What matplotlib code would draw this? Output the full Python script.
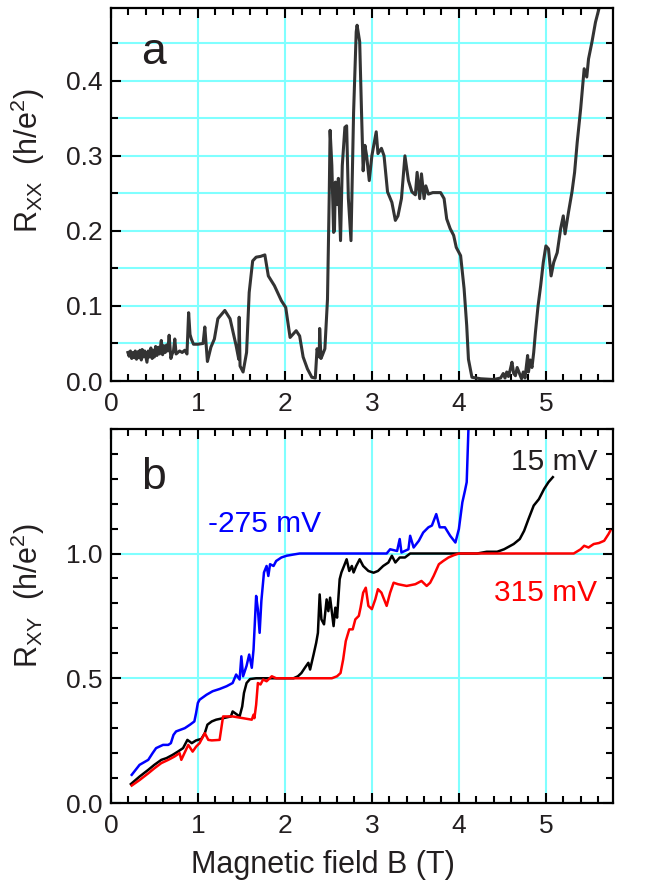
import matplotlib
matplotlib.use('Agg')
import matplotlib.pyplot as plt
from matplotlib.ticker import MultipleLocator, FixedLocator

plt.rcParams['font.family'] = ['Liberation Sans', 'DejaVu Sans']
plt.rcParams['mathtext.default'] = 'regular'

# panel a: Rxx vs B
b_xx = [0.196, 0.21, 0.225, 0.24, 0.255, 0.27, 0.28, 0.295, 0.31, 0.32, 0.335, 0.35, 0.36, 0.375, 0.39,
        0.40, 0.415, 0.43, 0.445, 0.46, 0.475, 0.49, 0.50, 0.515, 0.53, 0.545, 0.56, 0.58, 0.595, 0.61,
        0.625, 0.64, 0.655, 0.67, 0.69, 0.705, 0.72, 0.735, 0.75, 0.77, 0.79, 0.82, 0.85, 0.875, 0.894,
        0.91, 0.925, 0.95, 1.00, 1.06, 1.08, 1.11, 1.15, 1.19, 1.23,
        1.31, 1.37, 1.44, 1.47, 1.475, 1.485, 1.52, 1.56, 1.59, 1.63, 1.67, 1.72, 1.77, 1.81, 1.88,
        1.96, 2.01, 2.06, 2.13, 2.17, 2.21, 2.26, 2.31, 2.35, 2.37, 2.395, 2.40, 2.415, 2.43, 2.46,
        2.49, 2.51, 2.52, 2.54, 2.56, 2.57, 2.58, 2.60, 2.615, 2.64, 2.66, 2.69, 2.71, 2.73, 2.76,
        2.79, 2.82, 2.83, 2.86, 2.88, 2.90, 2.92, 2.94, 2.97, 3.00, 3.05, 3.07, 3.11, 3.14, 3.18,
        3.23, 3.27, 3.30, 3.34, 3.38, 3.42, 3.46, 3.50, 3.52, 3.55, 3.57, 3.60, 3.62, 3.65, 3.70,
        3.79, 3.83, 3.86, 3.90, 3.94, 3.97, 4.02, 4.06, 4.09, 4.11, 4.15, 4.25, 4.40, 4.48, 4.51,
        4.53, 4.55, 4.57, 4.59, 4.61, 4.63, 4.65, 4.67, 4.69, 4.72, 4.74, 4.76, 4.79, 4.80, 4.82,
        4.84, 4.86, 4.88, 4.91, 4.94, 4.97, 5.00, 5.03,
        5.06, 5.09, 5.13, 5.17, 5.20, 5.22, 5.26, 5.30, 5.33, 5.36, 5.40, 5.44, 5.47, 5.49, 5.53,
        5.57, 5.61]
r_xx = [0.038, 0.033, 0.040, 0.030, 0.038, 0.031, 0.040, 0.029, 0.039, 0.031, 0.041, 0.028, 0.042, 0.032, 0.040,
        0.034, 0.025, 0.040, 0.032, 0.044, 0.030, 0.041, 0.032, 0.046, 0.034, 0.045, 0.036, 0.054, 0.035, 0.047,
        0.038, 0.048, 0.040, 0.061, 0.030, 0.036, 0.040, 0.056, 0.036, 0.038, 0.040, 0.038, 0.041, 0.036, 0.091,
        0.062, 0.056, 0.049, 0.049, 0.050, 0.072, 0.026, 0.045, 0.056, 0.083,
        0.094, 0.083, 0.047, 0.029, 0.085, 0.020, 0.012, 0.038, 0.118, 0.160, 0.165, 0.166, 0.168, 0.140, 0.127,
        0.107, 0.098, 0.058, 0.067, 0.060, 0.032, 0.016, 0.005, 0.004, 0.043, 0.032, 0.070, 0.030, 0.034, 0.043,
        0.109, 0.247, 0.334, 0.287, 0.198, 0.200, 0.265, 0.235, 0.270, 0.187, 0.287, 0.338, 0.340, 0.243, 0.187,
        0.358, 0.465, 0.474, 0.452, 0.363, 0.280, 0.314, 0.300, 0.267, 0.300, 0.332, 0.303, 0.310, 0.300, 0.252,
        0.238, 0.214, 0.220, 0.243, 0.300, 0.267, 0.252, 0.248, 0.278, 0.243, 0.276, 0.243, 0.260, 0.249, 0.251,
        0.251, 0.243, 0.216, 0.203, 0.194, 0.178, 0.167, 0.123, 0.074, 0.029, 0.005, 0.003, 0.002, 0.004, 0.010,
        0.004, 0.012, 0.006, 0.015, 0.025, 0.010, 0.007, 0.018, 0.012, 0.003, 0.012, 0.004, 0.034, 0.012, 0.028,
        0.018, 0.038, 0.065, 0.100, 0.127, 0.158, 0.180, 0.176,
        0.140, 0.158, 0.171, 0.203, 0.220, 0.196, 0.225, 0.252, 0.278, 0.318, 0.363, 0.416, 0.405, 0.429, 0.452,
        0.478, 0.496]

# panel b: Rxy vs B for three gate voltages
b_neg = [0.24, 0.33, 0.43, 0.48, 0.52, 0.60, 0.66, 0.69, 0.72, 0.75, 0.85, 0.91, 0.96, 0.98, 1.00,
         1.02, 1.10, 1.17, 1.25, 1.33, 1.40, 1.44, 1.48, 1.50, 1.52, 1.56, 1.59, 1.62, 1.64, 1.67,
         1.69, 1.71, 1.73, 1.76, 1.79, 1.81, 1.83, 1.87, 1.90, 1.96, 2.02, 2.10, 2.17, 2.60, 3.17,
         3.21, 3.29, 3.32, 3.34, 3.42, 3.44, 3.48, 3.54, 3.59, 3.65, 3.69, 3.74, 3.78, 3.84, 3.90,
         3.96, 4.00, 4.04, 4.07, 4.09, 4.11]
r_neg = [0.113, 0.153, 0.173, 0.200, 0.220, 0.233, 0.233, 0.240, 0.273, 0.287, 0.300, 0.314, 0.327, 0.361, 0.401,
         0.414, 0.434, 0.448, 0.457, 0.468, 0.481, 0.515, 0.495, 0.588, 0.508, 0.550, 0.595, 0.542, 0.615, 0.830,
         0.776, 0.682, 0.810, 0.924, 0.950, 0.910, 0.957, 0.950, 0.970, 0.984, 0.991, 0.996, 1.000, 1.000, 1.000,
         1.017, 1.010, 1.058, 1.004, 1.017, 1.071, 1.024, 1.051, 1.084, 1.105, 1.112, 1.158, 1.105, 1.105, 1.071,
         1.044, 1.098, 1.205, 1.252, 1.286, 1.50]

b_mid = [0.23, 0.33, 0.43, 0.50, 0.58, 0.64, 0.71, 0.77, 0.83, 0.88, 0.93, 0.98, 1.04, 1.08, 1.11,
         1.16, 1.21, 1.29, 1.38, 1.40, 1.48, 1.51, 1.53, 1.56, 1.60, 1.67, 2.10, 2.15, 2.19, 2.23,
         2.27, 2.29, 2.33, 2.36, 2.38, 2.40, 2.42, 2.45, 2.48, 2.50, 2.52, 2.56, 2.58, 2.60, 2.63,
         2.65, 2.68, 2.71, 2.74, 2.77, 2.79, 2.82, 2.86, 2.90, 2.96, 3.02, 3.07, 3.13, 3.19, 3.23,
         3.27, 3.32, 3.38, 3.44, 4.21, 4.32, 4.44, 4.52, 4.63, 4.70, 4.75, 4.80, 4.86, 4.92, 4.98,
         5.03, 5.08]
r_mid = [0.076, 0.106, 0.133, 0.153, 0.173, 0.180, 0.193, 0.206, 0.220, 0.253, 0.240, 0.251, 0.257, 0.280, 0.314,
         0.327, 0.334, 0.340, 0.347, 0.367, 0.347, 0.387, 0.441, 0.481, 0.497, 0.500, 0.500, 0.508, 0.521, 0.542,
         0.562, 0.535, 0.595, 0.642, 0.682, 0.836, 0.736, 0.716, 0.816, 0.769, 0.823, 0.709, 0.783, 0.743, 0.897,
         0.924, 0.950, 0.977, 0.930, 0.950, 0.924, 0.950, 0.977, 0.950, 0.930, 0.923, 0.930, 0.950, 0.964, 0.991,
         0.964, 0.984, 0.984, 1.000, 1.000, 1.007, 1.007, 1.017, 1.038, 1.058, 1.091, 1.138, 1.192, 1.218, 1.259,
         1.286, 1.306]

b_pos = [0.24, 0.33, 0.43, 0.50, 0.58, 0.66, 0.73, 0.79, 0.81, 0.89, 0.94, 0.98, 1.02, 1.08, 1.12,
         1.16, 1.25, 1.29, 1.40, 1.52, 1.62, 1.64, 1.65, 1.67, 1.69, 1.72, 1.75, 1.79, 1.85, 1.90,
         2.54, 2.60, 2.64, 2.67, 2.70, 2.74, 2.78, 2.81, 2.85, 2.87, 2.90, 2.93, 2.96, 3.00, 3.04,
         3.07, 3.11, 3.17, 3.21, 3.25, 3.30, 3.40, 3.50, 3.57, 3.63, 3.67, 3.71, 3.77, 3.82, 3.88,
         3.94, 4.00, 5.32, 5.40, 5.44, 5.49, 5.55, 5.61, 5.67, 5.72, 5.74]
r_pos = [0.070, 0.092, 0.119, 0.139, 0.160, 0.173, 0.186, 0.200, 0.173, 0.233, 0.206, 0.226, 0.240, 0.280, 0.253,
         0.251, 0.253, 0.347, 0.347, 0.340, 0.334, 0.354, 0.340, 0.394, 0.481, 0.475, 0.495, 0.488, 0.508, 0.500,
         0.500, 0.508, 0.521, 0.575, 0.649, 0.696, 0.696, 0.736, 0.750, 0.783, 0.843, 0.863, 0.790, 0.777, 0.817,
         0.857, 0.843, 0.790, 0.843, 0.883, 0.877, 0.870, 0.877, 0.890, 0.870, 0.883, 0.910, 0.957, 0.970, 0.984,
         0.993, 1.000, 1.000, 1.017, 1.031, 1.024, 1.038, 1.042, 1.051, 1.078, 1.091]

grid_col = '#80ffff'
txt_col = '#231f20'

fig = plt.figure(figsize=(6.52, 8.84), dpi=100)
ax1 = fig.add_axes([0.170, 0.569, 0.770, 0.422])
ax2 = fig.add_axes([0.170, 0.0916, 0.770, 0.4234])


def style_axes(ax):
    for s in ax.spines.values():
        s.set_linewidth(1.6)
        s.set_color('black')
    ax.tick_params(which='both', direction='in', top=True, right=True, width=1.5,
                   labelsize=19, colors='black', labelcolor=txt_col)
    ax.tick_params(axis='x', which='both', pad=8)
    ax.tick_params(axis='y', which='both', pad=6)
    ax.tick_params(which='major', length=7)
    ax.tick_params(which='minor', length=5)
    ax.xaxis.set_major_locator(MultipleLocator(1))
    ax.xaxis.set_minor_locator(MultipleLocator(0.2))
    ax.set_xlim(0, 5.77)
    ax.set_axisbelow(True)
    ax.grid(True, axis='x', which='major', color=grid_col, lw=1.5)


style_axes(ax1)
ax1.plot(b_xx, r_xx, color='#333333', lw=2.2)
ax1.set_ylim(0, 0.497)
ax1.yaxis.set_major_locator(MultipleLocator(0.1))
ax1.yaxis.set_minor_locator(MultipleLocator(0.05))
ax1.grid(True, axis='y', which='both', color=grid_col, lw=1.5)
ax1.set_ylabel('R$_{XX}$  (h/e$^2$)', fontsize=22, color=txt_col)
ax1.yaxis.set_label_coords(-0.128, 0.59)
ax1.text(0.06, 0.85, 'a', transform=ax1.transAxes, fontsize=32, color=txt_col)

style_axes(ax2)
ax2.plot(b_mid, r_mid, color='black', lw=1.8)
ax2.plot(b_pos, r_pos, color='#ff0000', lw=1.8)
ax2.plot(b_neg, r_neg, color='#0000ff', lw=1.8)
ax2.set_ylim(0, 1.5)
ax2.yaxis.set_major_locator(FixedLocator([0.0, 0.5, 1.0]))
ax2.yaxis.set_minor_locator(MultipleLocator(0.1))
ax2.grid(True, axis='y', which='major', color=grid_col, lw=1.5)
ax2.set_ylabel('R$_{XY}$  (h/e$^2$)', fontsize=22, color=txt_col)
ax2.yaxis.set_label_coords(-0.128, 0.553)
ax2.set_xlabel('Magnetic field B (T)', fontsize=22, color=txt_col)
ax2.xaxis.set_label_coords(0.422, -0.125)
ax2.text(0.06, 0.84, 'b', transform=ax2.transAxes, fontsize=32, color=txt_col)
ax2.text(1.12, 1.085, '-275 mV', color='#0000ff', fontsize=21.5, va='baseline')
ax2.text(5.59, 1.336, '15 mV', color=txt_col, fontsize=21.5, ha='right', va='baseline')
ax2.text(5.59, 0.808, '315 mV', color='#ff0000', fontsize=21.5, ha='right', va='baseline')

fig.savefig('out.png', dpi=100)
